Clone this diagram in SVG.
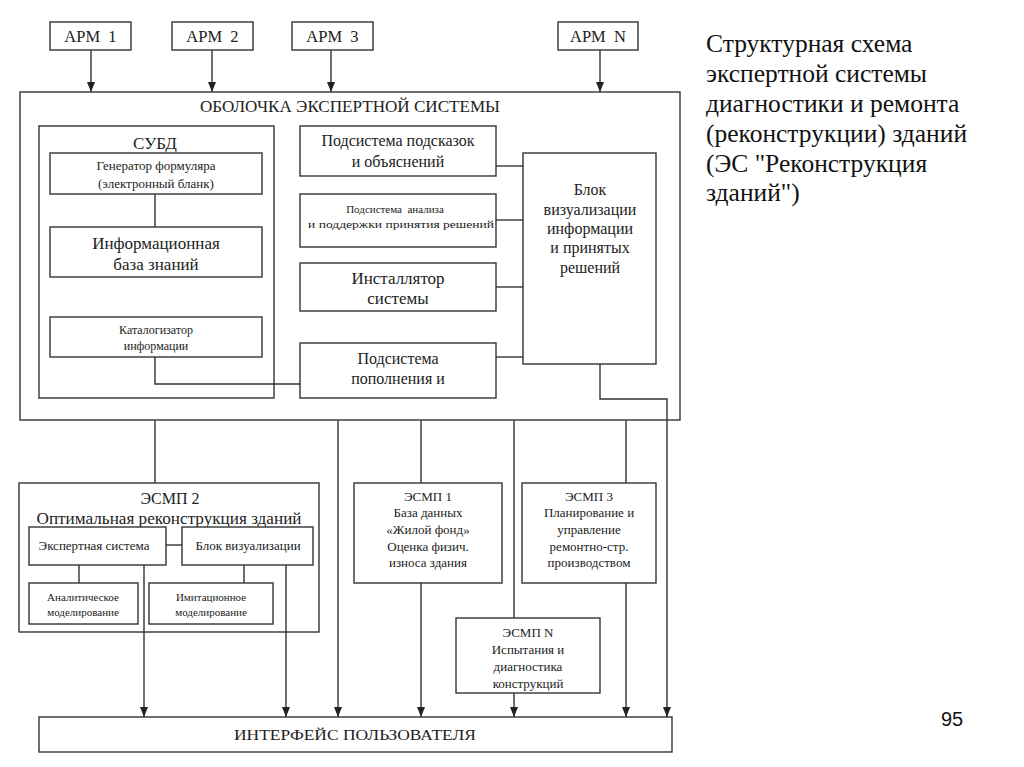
<svg xmlns="http://www.w3.org/2000/svg" width="1024" height="767" viewBox="0 0 1024 767">
<style>
.b{fill:#fff;stroke:#333;stroke-width:1.4}
.c{fill:none;stroke:#333;stroke-width:1.4}
.t{font-family:"Liberation Serif","Times New Roman",serif;fill:#222;text-anchor:middle}
.s11{font-size:11px}.s12{font-size:12px}.s13{font-size:13px}.s15{font-size:15px}.s16{font-size:16px}.s17{font-size:17px}
.side{font-family:"Liberation Serif","Times New Roman",serif;font-size:25.5px;fill:#111}
</style>
<defs>
<marker id="ah" markerUnits="userSpaceOnUse" markerWidth="8" markerHeight="10" refX="4" refY="10" orient="0" viewBox="0 0 8 10">
<path d="M0,0 L8,0 L4,10 z" fill="#222"/>
</marker>
</defs>
<rect width="1024" height="767" fill="#fff"/>

<g id="apm1"><rect class="b" x="50" y="22" width="81" height="28"/><text class="t" font-size="16.5" x="90.5" y="42" xml:space="preserve">АРМ  1</text></g>
<g id="apm2"><rect class="b" x="172" y="22" width="81" height="28"/><text class="t" font-size="16.5" x="212.5" y="42" xml:space="preserve">АРМ  2</text></g>
<g id="apm3"><rect class="b" x="292" y="22" width="81" height="28"/><text class="t" font-size="16.5" x="332.5" y="42" xml:space="preserve">АРМ  3</text></g>
<g id="apmN"><rect class="b" x="558" y="22" width="80" height="28"/><text class="t" font-size="16.5" x="598" y="42" xml:space="preserve">АРМ  N</text></g>

<g id="shell"><rect class="b" x="20" y="92" width="660" height="328"/><text class="t s16" x="350" y="112" textLength="300" lengthAdjust="spacingAndGlyphs">ОБОЛОЧКА ЭКСПЕРТНОЙ СИСТЕМЫ</text></g>

<g id="subd"><rect class="b" x="39" y="126" width="235" height="272"/><text class="t s17" x="155" y="149">СУБД</text></g>
<g id="generator"><rect class="b" x="50" y="153" width="212" height="41"/><text class="t s13" x="156" y="170">Генератор формуляра</text><text class="t s13" x="156" y="188">(электронный бланк)</text></g>
<g id="infobase"><rect class="b" x="50" y="227" width="212" height="50"/><text class="t s17" x="156" y="249">Информационная</text><text class="t s17" x="156" y="270">база знаний</text></g>
<g id="catalog"><rect class="b" x="50" y="317" width="212" height="40"/><text class="t s12" x="156" y="334">Каталогизатор</text><text class="t s12" x="156" y="350">информации</text></g>

<g id="hints"><rect class="b" x="300" y="126" width="196" height="50"/><text class="t s16" x="398" y="146">Подсистема подсказок</text><text class="t s16" x="398" y="167">и объяснений</text></g>
<g id="analysis"><rect class="b" x="300" y="194" width="196" height="53"/><text class="t s11" x="395" y="213" xml:space="preserve">Подсистема  анализа</text><text class="t s11" x="401" y="228" textLength="186" lengthAdjust="spacingAndGlyphs">и поддержки принятия решений</text></g>
<g id="installer"><rect class="b" x="300" y="263" width="196" height="48"/><text class="t s17" x="398" y="284">Инсталлятор</text><text class="t s17" x="398" y="304">системы</text></g>
<g id="replenish"><rect class="b" x="300" y="343" width="196" height="55"/><text class="t s16" x="398" y="364">Подсистема</text><text class="t s16" x="398" y="384">пополнения и</text></g>
<g id="vizblock"><rect class="b" x="523" y="153" width="133" height="211"/><text class="t s16" x="590" y="195">Блок</text><text class="t s16" x="590" y="215">визуализации</text><text class="t s16" x="590" y="234">информации</text><text class="t s16" x="590" y="253">и принятых</text><text class="t s16" x="590" y="273">решений</text></g>

<g id="esmp2"><rect class="b" x="19" y="483" width="300" height="149"/><text class="t s16" x="170" y="504">ЭСМП 2</text><text class="t s16" x="169" y="524" textLength="265" lengthAdjust="spacingAndGlyphs">Оптимальная реконструкция зданий</text></g>
<g id="expert"><rect class="b" x="29" y="527" width="137" height="38"/><text class="t s13" x="94" y="550">Экспертная система</text></g>
<g id="viz2"><rect class="b" x="182" y="527" width="131" height="38"/><text class="t s13" x="248" y="550">Блок визуализации</text></g>
<g id="analytic"><rect class="b" x="29" y="583" width="109" height="41"/><text class="t s11" x="83" y="601">Аналитическое</text><text class="t s11" x="83" y="616">моделирование</text></g>
<g id="imitation"><rect class="b" x="149" y="583" width="124" height="41"/><text class="t s11" x="211" y="601">Имитационное</text><text class="t s11" x="211" y="616">моделирование</text></g>

<g id="esmp1"><rect class="b" x="354" y="483" width="148" height="100"/><text class="t s13" x="428" y="501">ЭСМП 1</text><text class="t s13" x="428" y="517">База данных</text><text class="t s13" x="428" y="534">«Жилой фонд»</text><text class="t s13" x="428" y="551">Оценка физич.</text><text class="t s13" x="428" y="567">износа здания</text></g>
<g id="esmp3"><rect class="b" x="522" y="483" width="134" height="100"/><text class="t s13" x="589" y="501">ЭСМП 3</text><text class="t s13" x="589" y="517">Планирование и</text><text class="t s13" x="589" y="534">управление</text><text class="t s13" x="589" y="551">ремонтно-стр.</text><text class="t s13" x="589" y="567">производством</text></g>
<g id="esmpN"><rect class="b" x="456" y="618" width="144" height="75"/><text class="t s13" x="528" y="637">ЭСМП N</text><text class="t s13" x="528" y="654">Испытания и</text><text class="t s13" x="528" y="671">диагностика</text><text class="t s13" x="528" y="688">конструкций</text></g>

<g id="interface"><rect class="b" x="39" y="717" width="633" height="35"/><text class="t s15" x="355" y="740" textLength="242" lengthAdjust="spacingAndGlyphs">ИНТЕРФЕЙС ПОЛЬЗОВАТЕЛЯ</text></g>

<g id="connectors">
<path class="c" marker-end="url(#ah)" d="M91,50 V92"/>
<path class="c" marker-end="url(#ah)" d="M212,50 V92"/>
<path class="c" marker-end="url(#ah)" d="M331,50 V92"/>
<path class="c" marker-end="url(#ah)" d="M600,50 V92"/>
<path class="c" d="M155,194 V227"/>
<path class="c" d="M155,357 V384 H300"/>
<path class="c" d="M496,166 H523"/>
<path class="c" d="M496,220 H523"/>
<path class="c" d="M496,287 H523"/>
<path class="c" d="M496,357 H523"/>
<path class="c" marker-end="url(#ah)" d="M600,364 V399 H667 V717"/>
<path class="c" d="M155,420 V483"/>
<path class="c" marker-end="url(#ah)" d="M338,420 V717"/>
<path class="c" d="M421,420 V483"/>
<path class="c" marker-end="url(#ah)" d="M421,583 V717"/>
<path class="c" d="M514,420 V618"/>
<path class="c" marker-end="url(#ah)" d="M514,693 V717"/>
<path class="c" d="M626,420 V483"/>
<path class="c" marker-end="url(#ah)" d="M626,583 V717"/>
<path class="c" d="M166,545 H182"/>
<path class="c" d="M79,565 V583"/>
<path class="c" d="M244,565 V583"/>
<path class="c" marker-end="url(#ah)" d="M144,565 V717"/>
<path class="c" marker-end="url(#ah)" d="M286,565 V717"/>
</g>

<g id="caption">
<text class="side" x="706" y="52">Структурная схема</text>
<text class="side" x="706" y="82">экспертной системы</text>
<text class="side" x="706" y="112">диагностики и ремонта</text>
<text class="side" x="706" y="142">(реконструкции) зданий</text>
<text class="side" x="706" y="172">(ЭС "Реконструкция</text>
<text class="side" x="706" y="201">зданий")</text>
</g>
<text x="952" y="726" font-family="Liberation Sans, Arial, sans-serif" font-size="20" fill="#111" text-anchor="middle">95</text>
</svg>
